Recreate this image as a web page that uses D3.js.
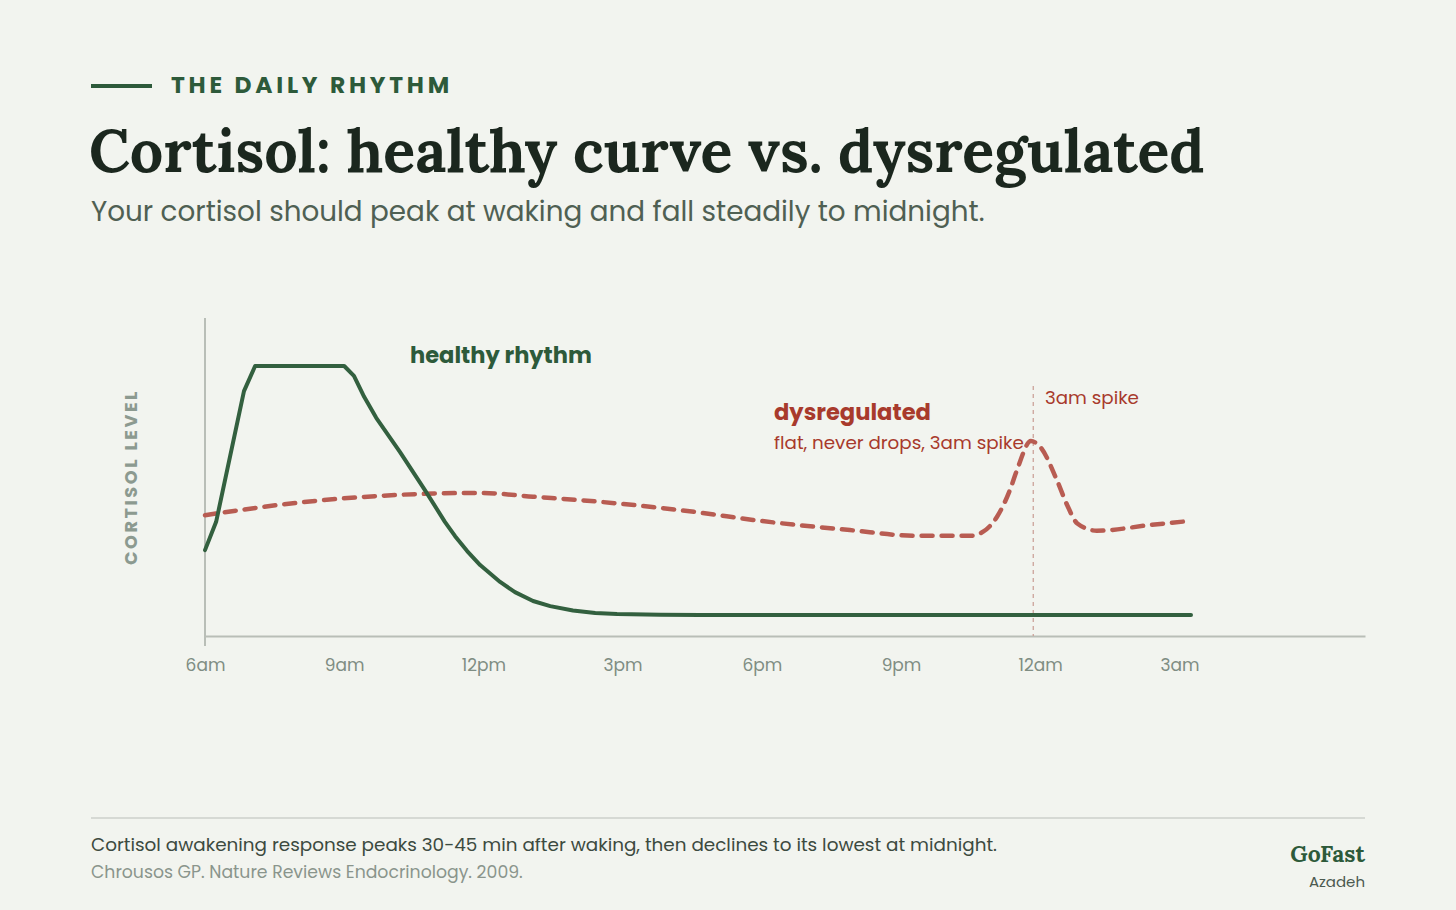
<!DOCTYPE html>
<html lang="en">
<head>
<meta charset="utf-8">
<script src="https://d3js.org/d3.v7.min.js"></script>
<style>
  body { margin: 0; background: #f2f4ef; }
  svg { display: block; }
  .sans { font-family: Poppins, "Open Sans", "Noto Sans", sans-serif; }
  .serif { font-family: Lora, "Liberation Serif", serif; }
</style>
</head>
<body>
<script>
// hours after 6am
var tickHours = [0, 3, 6, 9, 12, 15, 18, 21];
var tickLabels = ["6am", "9am", "12pm", "3pm", "6pm", "9pm", "12am", "3am"];

// healthy rhythm (relative cortisol level, 0-100)
var healthyHours = [0, 0.24, 0.84, 1.08, 3.0, 3.21, 3.43, 3.69, 4.2, 4.74, 5.17, 5.39, 5.65, 5.93, 6.36, 6.68, 7.07, 7.44, 7.93, 8.41, 8.88, 9.81, 10.67, 21.25];
var healthyLevel = [27, 35.9, 77, 84.9, 84.9, 81.8, 75.2, 68.6, 57.9, 45.9, 35.9, 31.4, 26.7, 22.3, 17, 13.8, 11, 9.4, 8, 7.2, 6.9, 6.7, 6.6, 6.6];

// dysregulated
var dysHours = [0, 2.05, 4.2, 5.93, 7.07, 8.51, 10.67, 11.81, 13.9, 15.34, 16.49, 16.77, 17.07, 17.35, 17.5, 17.8, 18.0, 18.36, 18.58, 18.8, 19.22, 20.37, 21.23];
var dysLevel = [38, 42, 44.4, 45, 43.8, 42.2, 38.8, 36.5, 33.3, 31.5, 31.5, 32.8, 37.5, 46, 52.2, 61.3, 59.5, 49, 41.2, 35.4, 33.1, 34.9, 36.2];

var spikeHour = 17.85;

var W = 1456, H = 910;
var green = "#2d5a3a", lineGreen = "#33603f", red = "#b85c52", redText = "#a83a2c";

var svg = d3.select("body").append("svg")
    .attr("width", W)
    .attr("height", H);

svg.append("rect").attr("width", W).attr("height", H).attr("fill", "#f2f4ef");

// scale a text's font size so it spans w pixels
function fit(sel, w) {
    var len = sel.node().getComputedTextLength();
    var fs = parseFloat(sel.attr("font-size"));
    sel.attr("font-size", fs * w / len);
    return sel;
}

// ---- header
svg.append("line")
    .attr("x1", 91).attr("x2", 152).attr("y1", 86).attr("y2", 86)
    .attr("stroke", green).attr("stroke-width", 4);

var kicker = svg.append("text").attr("class", "sans")
    .attr("x", 171).attr("y", 93)
    .attr("font-size", 22).attr("font-weight", 700)
    .attr("letter-spacing", "0.16em")
    .attr("fill", green)
    .text("THE DAILY RHYTHM");
fit(kicker, 282);

var title = svg.append("text").attr("class", "serif")
    .attr("x", 89).attr("y", 172)
    .attr("font-size", 62).attr("font-weight", 700)
    .attr("fill", "#1b271e")
    .text("Cortisol: healthy curve vs. dysregulated");
fit(title, 1116);

var sub = svg.append("text").attr("class", "sans")
    .attr("x", 91).attr("y", 221)
    .attr("font-size", 26)
    .attr("fill", "#4f6053")
    .text("Your cortisol should peak at waking and fall steadily to midnight.");
fit(sub, 894);

// ---- chart
var x = d3.scaleLinear().domain([0, 25]).range([205, 1365]);
var y = d3.scaleLinear().domain([0, 100]).range([636, 318]);

svg.append("g")
    .attr("transform", "translate(0," + y(0) + ")")
    .call(d3.axisBottom(x).tickValues(tickHours)
        .tickFormat(function (d, i) { return tickLabels[i]; })
        .tickSize(0).tickSizeOuter(0).tickPadding(23))
    .call(function (g) {
        g.select(".domain").attr("stroke", "#b9beb7").attr("stroke-width", 2);
        g.selectAll("text").attr("class", "sans")
            .attr("font-size", 17).attr("fill", "#7f8d83");
    });

svg.append("line")
    .attr("x1", x(0)).attr("x2", x(0))
    .attr("y1", y(100)).attr("y2", y(0) + 10)
    .attr("stroke", "#b9beb7").attr("stroke-width", 2);

var ylab = svg.append("text").attr("class", "sans")
    .attr("transform", "translate(137," + 477 + ") rotate(-90)")
    .attr("text-anchor", "middle")
    .attr("font-size", 17).attr("font-weight", 700)
    .attr("letter-spacing", "0.14em")
    .attr("fill", "#8c9a90")
    .text("CORTISOL LEVEL");
fit(ylab, 176);

// spike marker
svg.append("line")
    .attr("x1", x(spikeHour)).attr("x2", x(spikeHour))
    .attr("y1", 386).attr("y2", y(0))
    .attr("stroke", "#c99c93").attr("stroke-width", 1.2)
    .attr("stroke-dasharray", "4,4");

var line = d3.line()
    .x(function (d) { return x(d[0]); })
    .y(function (d) { return y(d[1]); });

svg.append("path")
    .datum(d3.zip(dysHours, dysLevel))
    .attr("d", line.curve(d3.curveMonotoneX))
    .attr("fill", "none")
    .attr("stroke", red).attr("stroke-width", 4.5)
    .attr("stroke-linecap", "round")
    .attr("stroke-dasharray", "11,9");

svg.append("path")
    .datum(d3.zip(healthyHours, healthyLevel))
    .attr("d", line.curve(d3.curveLinear))
    .attr("fill", "none")
    .attr("stroke", lineGreen).attr("stroke-width", 4)
    .attr("stroke-linecap", "round")
    .attr("stroke-linejoin", "round");

// annotations
var a1 = svg.append("text").attr("class", "sans")
    .attr("x", 410).attr("y", 363)
    .attr("font-size", 22).attr("font-weight", 700)
    .attr("fill", green).text("healthy rhythm");
fit(a1, 182);

var a2 = svg.append("text").attr("class", "sans")
    .attr("x", 774).attr("y", 420)
    .attr("font-size", 22).attr("font-weight", 700)
    .attr("fill", redText).text("dysregulated");
fit(a2, 157);

var a3 = svg.append("text").attr("class", "sans")
    .attr("x", 774).attr("y", 449)
    .attr("font-size", 17)
    .attr("fill", redText).text("flat, never drops, 3am spike");
fit(a3, 250);

var a4 = svg.append("text").attr("class", "sans")
    .attr("x", 1045).attr("y", 404)
    .attr("font-size", 17)
    .attr("fill", redText).text("3am spike");
fit(a4, 94);

// ---- footer
svg.append("line")
    .attr("x1", 91).attr("x2", 1365).attr("y1", 818).attr("y2", 818)
    .attr("stroke", "#cdd1cb").attr("stroke-width", 1.5);

var f1 = svg.append("text").attr("class", "sans")
    .attr("x", 91).attr("y", 851)
    .attr("font-size", 17)
    .attr("fill", "#3c4a40")
    .text("Cortisol awakening response peaks 30-45 min after waking, then declines to its lowest at midnight.");
fit(f1, 907);

var f2 = svg.append("text").attr("class", "sans")
    .attr("x", 91).attr("y", 878)
    .attr("font-size", 15.5)
    .attr("fill", "#8a958c")
    .text("Chrousos GP. Nature Reviews Endocrinology. 2009.");
fit(f2, 432);

svg.append("text").attr("class", "serif")
    .attr("x", 1365).attr("y", 862)
    .attr("text-anchor", "end")
    .attr("font-size", 23).attr("font-weight", 700)
    .attr("fill", green).text("GoFast");

svg.append("text").attr("class", "sans")
    .attr("x", 1365).attr("y", 887)
    .attr("text-anchor", "end")
    .attr("font-size", 15)
    .attr("fill", "#4c5a50").text("Azadeh");
</script>
</body>
</html>
